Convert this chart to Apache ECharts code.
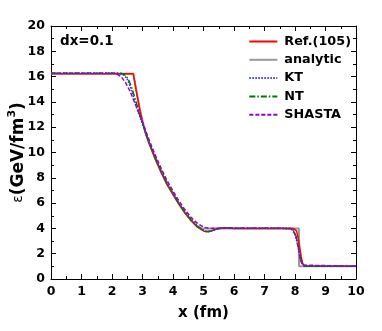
<!DOCTYPE html>
<html><head><meta charset="utf-8">
<script src="https://cdn.jsdelivr.net/npm/echarts@6/dist/echarts.min.js"></script>
<style>html,body{margin:0;padding:0;background:#fff}#c{width:382px;height:331px}</style>
</head><body><div id="c"></div>
<script>
var seriesNames = ['Ref.(105)', 'analytic', 'KT', 'NT', 'SHASTA'];
var refData = [[0,16.22],[2.7,16.22],[2.8,14.8],[2.9,13.5],[3.0,12.4],[3.1,11.5],[3.2,10.8],[3.4,9.6],[3.6,8.5],[3.8,7.5],[4.0,6.7],[4.2,5.9],[4.4,5.2],[4.6,4.6],[4.8,4.1],[5.0,3.8],[5.1,3.74],[5.25,3.8],[5.4,3.95],[5.6,4.03],[5.8,4.03],[6.0,4.0],[7.95,4.0],[8.05,3.8],[8.1,3.3],[8.15,2.6],[8.2,1.8],[8.25,1.25],[8.3,1.03],[8.4,1.0],[10,1.0]];
var analyticData = [[0,16.22],[2.7,16.22],[2.8,14.9],[2.9,13.6],[3.0,12.5],[3.1,11.6],[3.2,10.9],[3.4,9.6],[3.6,8.5],[3.8,7.5],[4.0,6.7],[4.2,5.9],[4.4,5.2],[4.6,4.6],[4.8,4.15],[4.95,4.0],[8.13,4.0],[8.13,1.0],[10,1.0]];
var ktData = [[0,16.27],[2.2,16.27],[2.4,16.1],[2.5,15.8],[2.6,15.2],[2.7,14.4],[2.8,13.6],[2.9,12.9],[3.0,12.2],[3.2,10.9],[3.4,9.7],[3.6,8.6],[3.8,7.6],[4.0,6.8],[4.2,6.0],[4.4,5.3],[4.6,4.7],[4.8,4.2],[5.0,3.85],[5.15,3.72],[5.3,3.8],[5.5,3.98],[5.7,4.05],[6.0,4.02],[7.8,4.0],[7.9,3.9],[8.0,3.5],[8.1,2.6],[8.15,1.9],[8.2,1.3],[8.3,1.02],[8.4,1.0],[10,1.0]];
var ntData = [[0,16.27],[2.3,16.27],[2.45,16.1],[2.55,15.7],[2.65,15.1],[2.75,14.3],[2.85,13.5],[3.0,12.3],[3.2,10.9],[3.4,9.7],[3.6,8.6],[3.8,7.6],[4.0,6.75],[4.2,5.95],[4.4,5.25],[4.6,4.65],[4.8,4.15],[5.0,3.82],[5.1,3.75],[5.25,3.8],[5.45,3.97],[5.7,4.04],[6.0,4.02],[7.85,4.0],[7.95,3.85],[8.05,3.3],[8.12,2.4],[8.18,1.6],[8.25,1.15],[8.32,1.0],[10,1.0]];
var shastaData = [[0,16.27],[2.1,16.27],[2.3,16.0],[2.45,15.5],[2.6,14.8],[2.75,13.9],[2.9,13.0],[3.0,12.4],[3.2,11.1],[3.4,9.9],[3.6,8.8],[3.8,7.8],[4.0,6.95],[4.2,6.15],[4.4,5.45],[4.6,4.85],[4.8,4.4],[5.0,4.1],[5.2,4.0],[5.5,4.02],[5.8,4.04],[6.0,4.02],[7.85,4.0],[7.95,3.8],[8.05,3.2],[8.12,2.3],[8.18,1.5],[8.25,1.1],[8.3,1.0],[10,1.0]];
var xTicks = {min:0, max:10, interval:1};
var yTicks = {min:0, max:20, interval:2};

var chart = echarts.init(document.getElementById('c'));
var font = 'DejaVu Sans';
function ax(pos, showLabel, t) {
  return {
    type:'value', position:pos, min:t.min, max:t.max, interval:t.interval,
    axisLine:{show:true, onZero:false, lineStyle:{color:'#000', width:1}},
    axisTick:{show:true, inside:true, length:5, lineStyle:{color:'#000'}},
    minorTick:{show:true, splitNumber:2, length:3, lineStyle:{color:'#000'}},
    splitLine:{show:false},
    axisLabel:{show:showLabel, color:'#000', fontFamily:font, fontWeight:'bold', fontSize:12.5, margin:6}
  };
}
var xb = ax('bottom', true, xTicks);
xb.name = 'x (fm)'; xb.nameLocation='middle'; xb.nameGap=27; xb.nameMoveOverlap=false;
xb.nameTextStyle = {color:'#000', fontFamily:font, fontWeight:'bold', fontSize:15};
var xt = ax('top', false, xTicks);
var yl = ax('left', true, yTicks);
yl.name = '{e|ε}(GeV/fm{s|3})'; yl.nameLocation='middle'; yl.nameGap=21; yl.nameMoveOverlap=false;
yl.nameTextStyle = {color:'#000', fontFamily:font, fontWeight:'bold', fontSize:17,
  rich:{e:{fontFamily:font, fontWeight:'normal', fontSize:14, color:'#000'}, s:{fontFamily:font, fontWeight:'bold', fontSize:11, color:'#000', verticalAlign:'top', padding:[0,0,12,0]}}};
var yr = ax('right', false, yTicks);

function mk(name, data, color, width, type, z) {
  return {name:name, type:'line', data:data, showSymbol:false, symbol:'none', xAxisIndex:0, yAxisIndex:0,
    lineStyle:{color:color, width:width, type:type}, itemStyle:{color:color}, z:z, animation:false};
}
chart.setOption({
  animation:false,
  grid:{left:51, right:26, top:26, bottom:52, containLabel:false, outerBoundsMode:'none'},
  xAxis:[xb, xt],
  yAxis:[yl, yr],
  legend:{
    data:seriesNames, orient:'vertical', right:31, top:35, padding:0, itemGap:5.3, itemWidth:28, itemHeight:14,
    align:'left', itemStyle:{opacity:0},
    textStyle:{color:'#000', fontFamily:font, fontWeight:'bold', fontSize:12.8, padding:[0,0,0,2]}
  },
  graphic:[{type:'text', left:60, top:34, style:{text:'dx=0.1', fill:'#000', font:'bold 13.5px "DejaVu Sans"'}}],
  series:[
    mk('Ref.(105)', refData, '#ff0000', 1.5, 'solid', 3),
    mk('analytic', analyticData, '#999999', 2, 'solid', 2),
    mk('KT', ktData, '#3333ff', 1.5, [1.5,1.5], 4),
    mk('NT', ntData, '#007700', 1.5, [6,2,1.5,2], 5),
    mk('SHASTA', shastaData, '#9400d3', 1.5, [4,2], 6)
  ]
});
</script></body></html>
